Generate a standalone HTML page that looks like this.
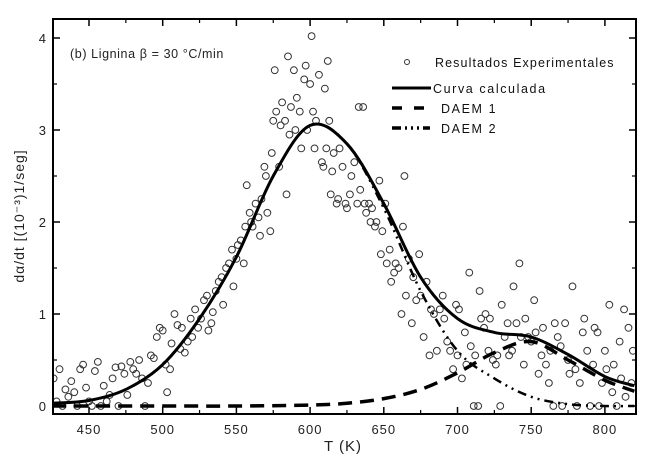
<!DOCTYPE html>
<html><head><meta charset="utf-8"><style>
html,body{margin:0;padding:0;background:#fff;}
svg{display:block;font-family:"Liberation Sans",sans-serif;}
</style></head><body>
<svg id="chart" width="650" height="458" viewBox="0 0 650 458">
</svg>
<script>
const expT=[426,428,430,432,434,436,438,440,442,444,446,448,450,452,454,456,458,460,462,464,466,468,470,472,474,476,478,480,482,484,486,488,490,492,494,496,498,500,502,503,505,506,508,510,512,513,515,517,519,520,522,524,526,528,530,531,533,534,536,538,540,541,543,545,547,548,550,551,553,555,556,557,559,560,561,563,565,566,567,569,570,571,573,574,575,576,577,579,580,581,583,584,585,586,587,589,590,591,593,594,596,597,598,600,601,602,603,604,606,608,609,610,611,612,613,614,615,616,618,619,620,622,624,625,627,628,630,632,633,634,636,637,638,640,641,642,644,645,647,648,649,651,652,654,655,657,658,660,662,663,664,665,667,669,670,672,674,675,677,679,681,682,684,686,688,690,691,693,695,697,699,700,701,703,705,706,708,709,711,712,714,715,716,718,719,721,722,724,726,727,729,730,732,734,735,737,738,740,742,743,745,746,748,750,752,753,755,757,758,760,762,763,765,766,768,770,771,773,775,776,778,780,781,783,785,786,788,790,792,793,795,796,798,800,801,803,805,806,808,810,811,813,814,816,818,819];
const expY=[0.3,0.05,0.4,0.0,0.18,0.1,0.27,0.15,0.0,0.4,0.45,0.2,0.05,0.0,0.38,0.48,0.0,0.22,0.05,0.12,0.3,0.42,0.0,0.43,0.35,0.12,0.48,0.4,0.35,0.5,0.3,0.0,0.25,0.55,0.52,0.75,0.85,0.82,0.45,0.15,0.4,0.68,1.0,0.88,0.62,0.85,0.58,0.7,0.95,0.75,1.05,0.85,0.95,1.15,1.2,0.82,0.9,1.02,1.25,1.35,1.4,1.1,1.5,1.55,1.7,1.3,1.6,1.75,1.8,1.55,1.95,2.4,2.1,2.0,1.95,2.2,2.05,1.85,2.25,2.6,2.5,2.1,1.9,2.75,3.1,3.65,3.2,2.6,3.05,3.3,3.1,2.3,3.8,2.95,3.25,3.65,3.0,3.35,3.2,2.8,3.55,3.7,3.0,3.5,4.02,3.2,2.8,3.1,3.6,2.65,2.6,3.45,2.8,3.75,3.1,2.3,2.55,2.75,2.2,2.25,2.8,2.6,2.2,2.15,2.3,2.5,2.65,2.2,3.25,2.35,3.25,2.2,2.1,2.2,2.0,2.15,1.95,2.0,2.45,1.65,1.9,2.2,1.55,1.7,1.35,1.45,1.55,1.5,1.0,1.95,2.5,1.2,1.6,0.9,1.4,1.15,1.65,1.2,0.75,1.35,0.55,1.05,1.0,0.6,1.05,1.2,0.95,0.7,0.6,0.4,1.1,0.55,1.05,0.3,0.8,0.45,1.45,0.65,0.0,0.55,0.0,1.25,0.95,0.85,1.0,0.6,0.95,0.5,0.45,0.55,0.0,1.1,0.75,0.9,0.55,0.6,1.3,0.9,1.55,0.75,0.45,0.95,0.75,0.7,1.15,0.8,0.35,0.55,0.85,0.45,0.25,0.6,0.0,0.9,0.75,0.65,0.0,0.9,0.5,0.35,1.3,0.4,0.0,0.25,0.8,0.95,0.6,0.0,0.45,0.85,0.8,0.0,0.25,0.6,0.4,1.1,0.15,0.45,0.0,0.7,0.3,1.05,0.1,0.85,0.25,0.6];
const calcT=[425,450,475,500,525,550,575,600,625,650,675,700,725,750,775,800,820];
const calcY=[0.03,0.06,0.18,0.45,0.95,1.62,2.5,3.05,2.85,2.2,1.4,0.95,0.8,0.75,0.56,0.32,0.22];
const d1T=[425,500,550,600,625,650,675,700,725,750,775,800,820];
const d1Y=[0.0,0.0,0.0,0.01,0.03,0.08,0.18,0.36,0.58,0.7,0.5,0.28,0.16];
const d2T=[425,450,475,500,525,550,575,600,625,650,675,700,725,750,775,800,820];
const d2Y=[0.03,0.06,0.18,0.45,0.95,1.62,2.5,3.05,2.85,2.15,1.25,0.6,0.3,0.1,0.02,0.0,0.0];
const xTicks=[450,500,550,600,650,700,750,800];
const yTicks=[0,1,2,3,4];

const NS="http://www.w3.org/2000/svg";
const svg=document.getElementById('chart');
const L=53,R=636,T=19,B=414;
const sx=t=>89+(t-450)*1.474;
const sy=v=>406-v*92;
function mk(tag,attrs,parent){const e=document.createElementNS(NS,tag);for(const k in attrs)e.setAttribute(k,attrs[k]);(parent||svg).appendChild(e);return e;}
function smooth(ts,vs){const p=ts.map((t,i)=>[sx(t),sy(vs[i])]);let d='M'+p[0][0]+','+p[0][1];for(let i=0;i<p.length-1;i++){const p0=p[i-1]||p[i],p1=p[i],p2=p[i+1],p3=p[i+2]||p2;const c1=[p1[0]+(p2[0]-p0[0])/6,p1[1]+(p2[1]-p0[1])/6],c2=[p2[0]-(p3[0]-p1[0])/6,p2[1]-(p3[1]-p1[1])/6];d+=` C${c1[0]},${c1[1]} ${c2[0]},${c2[1]} ${p2[0]},${p2[1]}`;}return d;}

const clip=mk('clipPath',{id:'pc'});mk('rect',{x:L,y:T,width:R-L,height:B-T},clip);
const g=mk('g',{'clip-path':'url(#pc)'});


for(let i=0;i<expT.length;i++){const c=mk('circle',{cx:sx(expT[i]),cy:sy(expY[i]),r:3.4,fill:'none',stroke:'#333','stroke-width':1},g);

}
const p1=mk('path',{d:smooth(d1T,d1Y),fill:'none',stroke:'#000','stroke-width':3.5,'stroke-dasharray':'14,8'},g);


const p2=mk('path',{d:smooth(d2T,d2Y),fill:'none',stroke:'#000','stroke-width':2.5,'stroke-dasharray':'9,5,2,5,2,5'},g);


const p0=mk('path',{d:smooth(calcT,calcY),fill:'none',stroke:'#000','stroke-width':3},g);



const fr=mk('rect',{x:L,y:T,width:R-L,height:B-T,fill:'none',stroke:'#000','stroke-width':2});


xTicks.forEach(t=>{const x=sx(t);
mk('line',{x1:x,x2:x,y1:B,y2:B-7,stroke:'#000','stroke-width':1.5});
mk('line',{x1:x,x2:x,y1:T,y2:T+7,stroke:'#000','stroke-width':1.5});
const xm=sx(t-25);if(xm>L){mk('line',{x1:xm,x2:xm,y1:B,y2:B-4,stroke:'#000','stroke-width':1.2});mk('line',{x1:xm,x2:xm,y1:T,y2:T+4,stroke:'#000','stroke-width':1.2});}
const tx=mk('text',{x:x,y:434,'text-anchor':'middle','font-size':13,fill:'#222','letter-spacing':'1'});tx.textContent=t;

});
yTicks.forEach(v=>{const y=sy(v);
mk('line',{x1:L,x2:L+7,y1:y,y2:y,stroke:'#000','stroke-width':1.5});
mk('line',{x1:R,x2:R-7,y1:y,y2:y,stroke:'#000','stroke-width':1.5});
const ym=sy(v+0.5);if(ym>T){mk('line',{x1:L,x2:L+4,y1:ym,y2:ym,stroke:'#000','stroke-width':1.2});mk('line',{x1:R,x2:R-4,y1:ym,y2:ym,stroke:'#000','stroke-width':1.2});}
const tx=mk('text',{x:46,y:y+5,'text-anchor':'end','font-size':13,fill:'#222'});tx.textContent=v;

});
</script>
<script>
(function(){
const NS="http://www.w3.org/2000/svg";const svg=document.getElementById('chart');
function t(x,y,s,attrs,name){const e=document.createElementNS(NS,'text');e.setAttribute('x',x);e.setAttribute('y',y);for(const k in attrs)e.setAttribute(k,attrs[k]);e.textContent=s;svg.appendChild(e);

return e;}
t(70,58,'(b) Lignina β = 30 °C/min',{'font-size':12.5,fill:'#222','letter-spacing':'0.6'},'chart-title');
t(343,451,'T  (K)',{'font-size':15,'text-anchor':'middle',fill:'#222','letter-spacing':'1'},'x-axis-title');
t(0,0,'dα/dt [(10⁻³)1/seg]',{'font-size':14,'text-anchor':'middle',fill:'#222','letter-spacing':'1',transform:'translate(24,216) rotate(-90)'},'y-axis-title');
function ln(a){const e=document.createElementNS(NS,'line');for(const k in a)e.setAttribute(k,a[k]);svg.appendChild(e);return e;}
const c=document.createElementNS(NS,'circle');c.setAttribute('cx',407);c.setAttribute('cy',62);c.setAttribute('r',2.5);c.setAttribute('fill','none');c.setAttribute('stroke','#333');svg.appendChild(c);


t(435,67,'Resultados Experimentales',{'font-size':12.5,fill:'#111','letter-spacing':'1.1'},'legend-entry-experimental');
const l1=ln({x1:392,x2:431,y1:88,y2:88,stroke:'#000','stroke-width':3});


t(433,93,'Curva calculada',{'font-size':12.5,fill:'#111','letter-spacing':'1.6'},'legend-entry-calculated');
const l2=ln({x1:392,x2:430,y1:108,y2:108,stroke:'#000','stroke-width':3.5,'stroke-dasharray':'10,12'});


t(441,113,'DAEM 1',{'font-size':12.5,fill:'#111','letter-spacing':'1.6'},'legend-entry-daem1');
const l3=ln({x1:392,x2:430,y1:128,y2:128,stroke:'#000','stroke-width':3.5,'stroke-dasharray':'9,4,2,4,2,4,2,4'});


t(441,133,'DAEM 2',{'font-size':12.5,fill:'#111','letter-spacing':'1.6'},'legend-entry-daem2');
})();
</script>
</body></html>
